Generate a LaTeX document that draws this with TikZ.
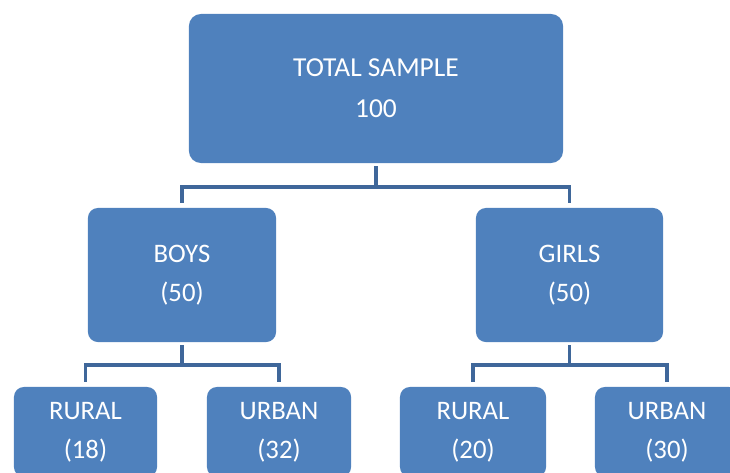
\documentclass[tikz,border=0pt]{standalone}
\usepackage{fontspec}
\setmainfont{Carlito}
\usepackage{tikz}
\usetikzlibrary{positioning,calc}
\definecolor{boxblue}{HTML}{4F81BD}
\definecolor{linkblue}{HTML}{3F679A}

\begin{document}
\begin{tikzpicture}[x=0.025cm,y=0.025cm,
    box/.style={fill=boxblue,draw=none,text=white,align=center,inner sep=0pt,
      rounded corners=7pt,font=\fontsize{19}{28}\selectfont},
    link/.style={draw=linkblue,line width=2.8pt}]
  \useasboundingbox (0,0) rectangle (730,-473);
  \clip (0,0) rectangle (730,-473);
  % top level
  \node[box,minimum width=9.35cm,minimum height=3.725cm,rounded corners=8.5pt,
    font=\fontsize{19.5}{29}\selectfont] (total) at (376,-88.5) {TOTAL SAMPLE\\100};
  % second level
  \node[box,minimum width=4.7cm,minimum height=3.35cm] (boys) at (182,-275) {BOYS\\(50)};
  \node[box,minimum width=4.675cm,minimum height=3.35cm] (girls) at (569.5,-275) {GIRLS\\(50)};
  % third level
  \node[box,minimum width=3.575cm,minimum height=2.25cm] (brural) at (85.5,-432) {RURAL\\(18)};
  \node[box,minimum width=3.6cm,minimum height=2.25cm] (burban) at (279,-432) {URBAN\\(32)};
  \node[box,minimum width=3.65cm,minimum height=2.25cm] (grural) at (473,-432) {RURAL\\(20)};
  \node[box,minimum width=3.6cm,minimum height=2.25cm] (gurban) at (667,-432) {URBAN\\(30)};
  % connectors
  \draw[link] ([yshift=-0.075cm]total.south) -- ++(0,-21) -| ([yshift=0.125cm]boys.north);
  \draw[link] ([yshift=-0.075cm]total.south) -- ++(0,-21) -| ([yshift=0.125cm]girls.north);
  \draw[link] ([yshift=-0.075cm]boys.south) -- ++(0,-20) -| ([yshift=0.125cm]brural.north);
  \draw[link] ([yshift=-0.075cm]boys.south) -- ++(0,-20) -| ([yshift=0.125cm]burban.north);
  \draw[link] ([yshift=-0.075cm]girls.south) -- ++(0,-20) -| ([yshift=0.125cm]grural.north);
  \draw[link] ([yshift=-0.075cm]girls.south) -- ++(0,-20) -| ([yshift=0.125cm]gurban.north);
\end{tikzpicture}
\end{document}
